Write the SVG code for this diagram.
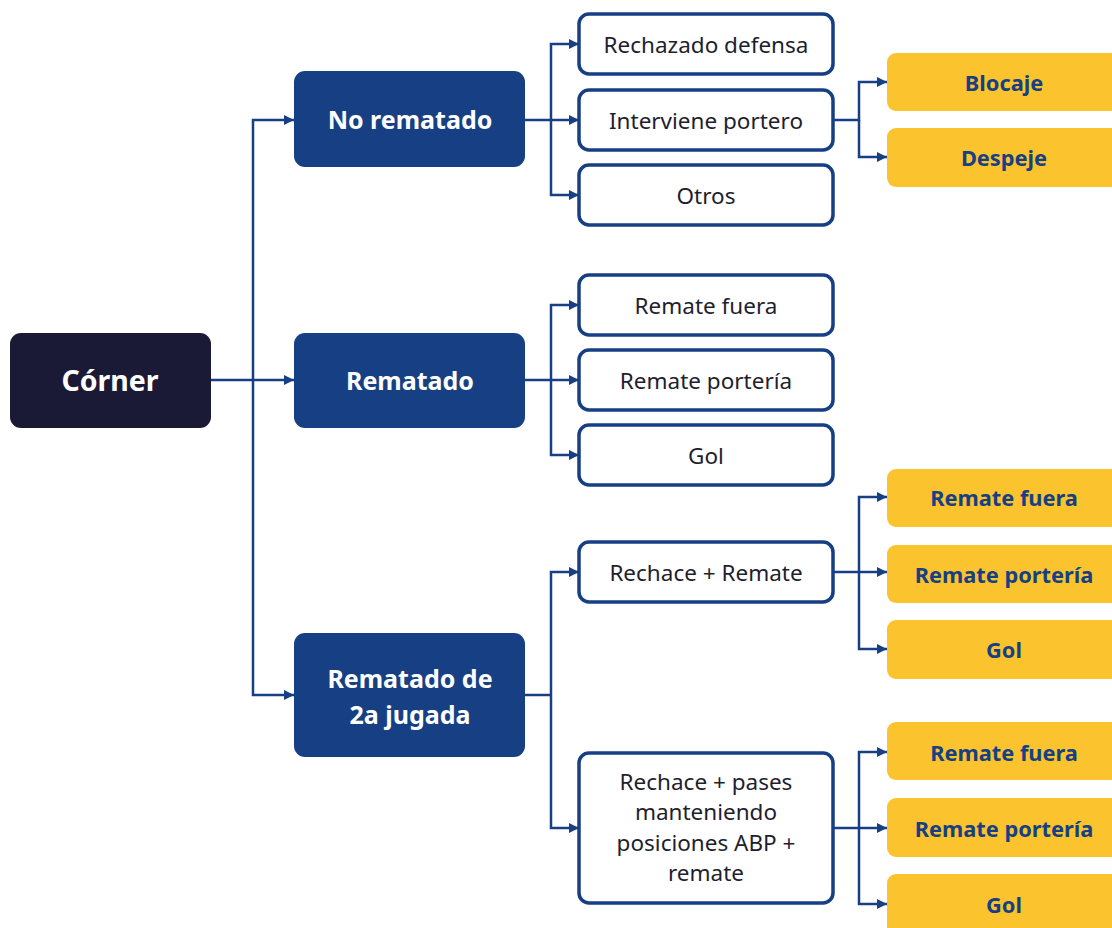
<svg xmlns="http://www.w3.org/2000/svg" width="1112" height="928" viewBox="0 0 1112 928">
<defs>
<marker id="ah" viewBox="0 0 10 10" refX="10" refY="5" markerWidth="10" markerHeight="10" markerUnits="userSpaceOnUse" orient="auto">
<path d="M0,0 L10,5 L0,10 z" fill="#173f83"/>
</marker>
<style>
.l1{fill:#173f83}
.l2{fill:#fff;stroke:#173f83;stroke-width:3.5}
.l3{fill:#fbc32d}
.c{fill:none;stroke:#173f83;stroke-width:2.5}
.a{fill:none;stroke:#173f83;stroke-width:2.5;marker-end:url(#ah)}
text{font-family:"Noto Sans","Open Sans",sans-serif;text-anchor:middle;dominant-baseline:central}
.t0{font-size:28.5px;font-weight:700;fill:#fff}
.t1{font-size:25px;font-weight:700;fill:#fff}
.t2{font-size:22.5px;fill:#1e1e2e}
.t3{font-size:21.8px;font-weight:700;fill:#173f83}
</style>
</defs>
<rect width="1112" height="928" fill="#fff"/>
<g id="connectors">
<path class="a" d="M211,380 H294"/>
<path class="a" d="M253,380 V120 H294"/>
<path class="a" d="M253,380 V695 H294"/>
<path class="a" d="M525,120 H579"/>
<path class="a" d="M551,120 V44 H579"/>
<path class="a" d="M551,120 V195 H579"/>
<path class="a" d="M833,120 H859 V82 H887"/>
<path class="a" d="M859,120 V157 H887"/>
<path class="a" d="M525,380 H579"/>
<path class="a" d="M551,380 V305 H579"/>
<path class="a" d="M551,380 V455 H579"/>
<path class="c" d="M525,695 H551"/>
<path class="a" d="M551,695 V572 H579"/>
<path class="a" d="M551,695 V828 H579"/>
<path class="a" d="M833,572 H887"/>
<path class="a" d="M859,572 V497 H887"/>
<path class="a" d="M859,572 V649 H887"/>
<path class="a" d="M833,828 H887"/>
<path class="a" d="M859,828 V752 H887"/>
<path class="a" d="M859,828 V904 H887"/>
</g>
<g id="corner"><rect x="10" y="333" width="201" height="95" rx="11" fill="#1b1a36"/><text class="t0" x="110" y="380">Córner</text></g>
<g id="no-rematado"><rect class="l1" x="294" y="71" width="231" height="96" rx="11"/><text class="t1" x="410" y="119">No rematado</text></g>
<g id="rematado"><rect class="l1" x="294" y="333" width="231" height="95" rx="11"/><text class="t1" x="410" y="380">Rematado</text></g>
<g id="rematado-2a"><rect class="l1" x="294" y="633" width="231" height="124" rx="11"/><text class="t1" x="410" y="678">Rematado de</text><text class="t1" x="410" y="714">2a jugada</text></g>
<g id="rechazado-defensa"><rect class="l2" x="579" y="14" width="254" height="60" rx="10"/><text class="t2" x="706" y="44">Rechazado defensa</text></g>
<g id="interviene-portero"><rect class="l2" x="579" y="90" width="254" height="60" rx="10"/><text class="t2" x="706" y="120">Interviene portero</text></g>
<g id="otros"><rect class="l2" x="579" y="165" width="254" height="60" rx="10"/><text class="t2" x="706" y="195">Otros</text></g>
<g id="remate-fuera"><rect class="l2" x="579" y="275" width="254" height="60" rx="10"/><text class="t2" x="706" y="305">Remate fuera</text></g>
<g id="remate-porteria"><rect class="l2" x="579" y="350" width="254" height="60" rx="10"/><text class="t2" x="706" y="380">Remate portería</text></g>
<g id="gol"><rect class="l2" x="579" y="425" width="254" height="60" rx="10"/><text class="t2" x="706" y="455">Gol</text></g>
<g id="rechace-remate"><rect class="l2" x="579" y="542" width="254" height="60" rx="10"/><text class="t2" x="706" y="572">Rechace + Remate</text></g>
<g id="rechace-pases"><rect class="l2" x="579" y="753" width="254" height="150" rx="10"/><text class="t2" x="706" y="781">Rechace + pases</text><text class="t2" x="706" y="811">manteniendo</text><text class="t2" x="706" y="842">posiciones ABP +</text><text class="t2" x="706" y="872">remate</text></g>
<g id="blocaje"><rect class="l3" x="887" y="53" width="240" height="58" rx="9"/><text class="t3" x="1004" y="82">Blocaje</text></g>
<g id="despeje"><rect class="l3" x="887" y="128" width="240" height="59" rx="9"/><text class="t3" x="1004" y="157">Despeje</text></g>
<g id="y-remate-fuera-1"><rect class="l3" x="887" y="469" width="240" height="58" rx="9"/><text class="t3" x="1004" y="497">Remate fuera</text></g>
<g id="y-remate-porteria-1"><rect class="l3" x="887" y="545" width="240" height="58" rx="9"/><text class="t3" x="1004" y="574">Remate portería</text></g>
<g id="y-gol-1"><rect class="l3" x="887" y="620" width="240" height="59" rx="9"/><text class="t3" x="1004" y="649">Gol</text></g>
<g id="y-remate-fuera-2"><rect class="l3" x="887" y="722" width="240" height="58" rx="9"/><text class="t3" x="1004" y="752">Remate fuera</text></g>
<g id="y-remate-porteria-2"><rect class="l3" x="887" y="798" width="240" height="59" rx="9"/><text class="t3" x="1004" y="828">Remate portería</text></g>
<g id="y-gol-2"><rect class="l3" x="887" y="874" width="240" height="70" rx="9"/><text class="t3" x="1004" y="904">Gol</text></g>
</svg>
